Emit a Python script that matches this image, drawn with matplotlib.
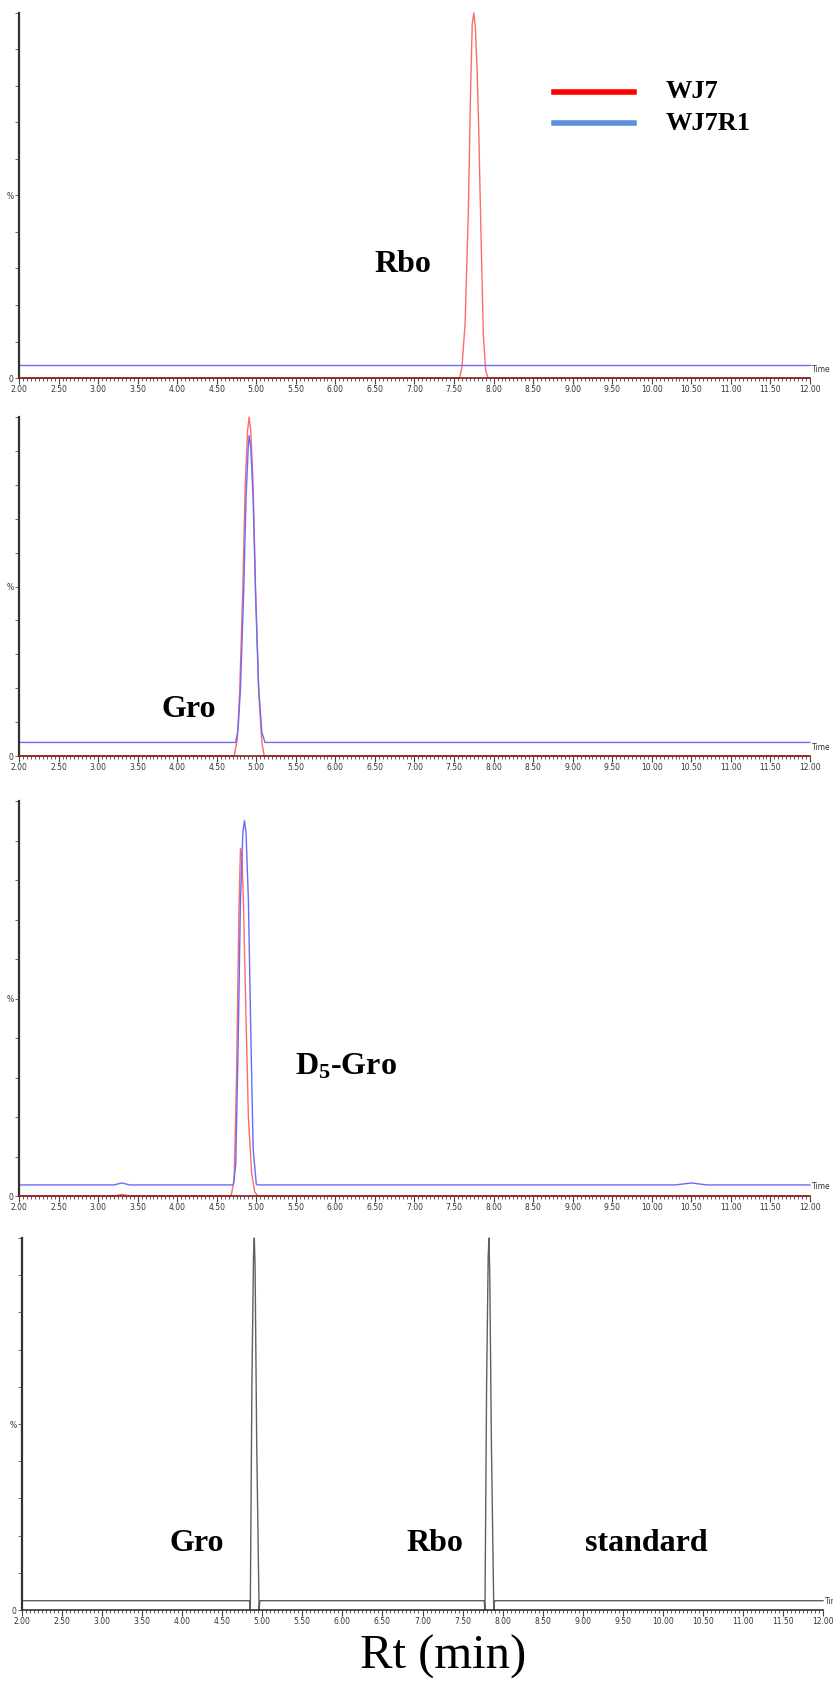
import matplotlib
matplotlib.use("Agg")
import matplotlib.pyplot as plt
from matplotlib.ticker import MultipleLocator, FixedLocator, FixedFormatter

plt.rcParams['mathtext.fontset'] = 'custom'
plt.rcParams['mathtext.rm'] = 'Liberation Serif:bold'
plt.rcParams['mathtext.it'] = 'Liberation Serif:bold'
plt.rcParams['mathtext.bf'] = 'Liberation Serif:bold'

# ---------------- data (retention time in min, intensity in %) ----------------
x_ticks = [2.0, 2.5, 3.0, 3.5, 4.0, 4.5, 5.0, 5.5, 6.0, 6.5, 7.0, 7.5, 8.0,
           8.5, 9.0, 9.5, 10.0, 10.5, 11.0, 11.5, 12.0]
x_tick_labels = ["2.00", "2.50", "3.00", "3.50", "4.00", "4.50", "5.00", "5.50",
                 "6.00", "6.50", "7.00", "7.50", "8.00", "8.50", "9.00", "9.50",
                 "10.00", "10.50", "11.00", "11.50", "12.00"]

# Panel 1 : Rbo channel
p1_wj7_t = [2.00, 7.57, 7.60, 7.64, 7.68, 7.71, 7.73, 7.75, 7.77, 7.79, 7.81, 7.84, 7.87, 7.90, 7.93, 12.00]
p1_wj7_i = [0, 0, 3, 15, 45, 80, 97, 100, 96, 85, 70, 40, 12, 2, 0, 0]
p1_r1_t = [2.00, 12.00]
p1_r1_i = [3.5, 3.5]

# Panel 2 : Gro channel
p2_wj7_t = [2.00, 4.72, 4.76, 4.79, 4.83, 4.86, 4.89, 4.91, 4.93, 4.96, 4.99, 5.03, 5.07, 5.10, 12.00]
p2_wj7_i = [0, 0, 5, 19, 50, 80, 96, 100, 96, 80, 50, 19, 4, 0, 0]
p2_r1_t = [2.00, 4.74, 4.77, 4.80, 4.84, 4.87, 4.90, 4.91, 4.93, 4.96, 4.99, 5.03, 5.07, 5.11, 12.00]
p2_r1_i = [4.0, 4.0, 8, 20, 48, 76, 92, 94.5, 91, 76, 48, 20, 7, 4.0, 4.0]

# Panel 3 : D5-Gro channel
p3_wj7_t = [2.00, 3.20, 3.30, 3.40, 4.68, 4.72, 4.75, 4.78, 4.80, 4.82, 4.84, 4.87, 4.90, 4.94, 4.98, 5.02, 12.00]
p3_wj7_i = [0, 0, 0.4, 0, 0, 4, 30, 72, 88, 86, 72, 45, 20, 6, 1, 0, 0]
p3_r1_t = [2.00, 3.20, 3.30, 3.40, 4.71, 4.74, 4.77, 4.80, 4.83, 4.85, 4.87, 4.90, 4.93, 4.96, 5.00, 5.02, 10.30, 10.50, 10.70, 12.00]
p3_r1_i = [2.8, 2.8, 3.3, 2.8, 2.8, 8, 38, 75, 92, 95, 92, 75, 42, 12, 3.0, 2.8, 2.8, 3.3, 2.8, 2.8]

# Panel 4 : standard
p4_std_t = [2.00, 4.84, 4.85, 4.87, 4.89, 4.90, 4.91, 4.93, 4.96, 4.97, 7.77, 7.78, 7.80, 7.82, 7.83, 7.84, 7.86, 7.89, 7.90, 12.00]
p4_std_i = [2.5, 2.5, 0, 60, 95, 100, 92, 45, 0, 2.5, 2.5, 0, 60, 95, 100, 90, 45, 0, 2.5, 2.5]

legend_labels = ["WJ7", "WJ7R1"]

# ---------------- layout ----------------
W, H = 833, 1685
fig = plt.figure(figsize=(W / 100, H / 100), dpi=100)

RED = '#ff6b6b'
BLUE = '#6b6bf5'
GRAY = '#606060'

def make_ax(left_px, right_px, top_px, base_px):
    ax = fig.add_axes([left_px / W, 1 - base_px / H,
                       (right_px - left_px) / W, (base_px - top_px) / H])
    ax.set_xlim(2.0, 12.0)
    ax.set_ylim(0, 100)
    for s in ['top', 'right']:
        ax.spines[s].set_visible(False)
    ax.spines['left'].set_color('#333333')
    ax.spines['left'].set_linewidth(1.6)
    ax.spines['bottom'].set_linewidth(1.2)
    ax.xaxis.set_major_locator(FixedLocator(x_ticks))
    ax.xaxis.set_major_formatter(FixedFormatter(x_tick_labels))
    ax.xaxis.set_minor_locator(MultipleLocator(0.05))
    ax.tick_params(axis='x', which='major', length=4, width=0.8, color='#444444',
                   labelsize=5.5, pad=1, labelcolor='#333333')
    ax.tick_params(axis='x', which='minor', length=2, width=0.6, color='#444444')
    ax.yaxis.set_major_locator(FixedLocator([0, 10, 20, 30, 40, 50, 60, 70, 80, 90, 100]))
    ax.yaxis.set_major_formatter(FixedFormatter(['0', '', '', '', '', '%', '', '', '', '', '']))
    ax.tick_params(axis='y', which='major', length=3, width=0.6, color='#555555',
                   labelsize=5.5, pad=1, labelcolor='#333333')
    ax.text(1.003, 0.012, 'Time', transform=ax.transAxes, fontsize=5.5,
            color='#333333', ha='left', va='bottom')
    ax.patch.set_alpha(0)
    return ax

ax1 = make_ax(19, 810, 13, 378)
ax2 = make_ax(19, 810, 417, 756)
ax3 = make_ax(19, 810, 801, 1196)
ax4 = make_ax(22, 823, 1238, 1610)

for ax in (ax1, ax2, ax3):
    ax.spines['bottom'].set_color('#8b1a1a')
ax4.spines['bottom'].set_color('#333333')

ax1.plot(p1_wj7_t, p1_wj7_i, color=RED, lw=1.0, clip_on=False)
ax1.plot(p1_r1_t, p1_r1_i, color=BLUE, lw=1.0, clip_on=False)

ax2.plot(p2_wj7_t, p2_wj7_i, color=RED, lw=1.0, clip_on=False)
ax2.plot(p2_r1_t, p2_r1_i, color=BLUE, lw=1.0, clip_on=False)

ax3.plot(p3_wj7_t, p3_wj7_i, color=RED, lw=1.0, clip_on=False)
ax3.plot(p3_r1_t, p3_r1_i, color=BLUE, lw=1.0, clip_on=False)

ax4.plot(p4_std_t, p4_std_i, color=GRAY, lw=1.0, clip_on=False)

# annotations
lab = dict(family='Liberation Serif', fontweight='bold', fontsize=23,
           ha='center', va='center', color='black')
ax1.text(6.85, 31, 'Rbo', **lab)
ax2.text(4.14, 13.6, 'Gro', **lab)
ax3.text(6.13, 32.7, r'D$_{5}$-Gro', **lab)
ax4.text(4.18, 18, 'Gro', **lab)
ax4.text(7.16, 18, 'Rbo', **lab)
ax4.text(9.8, 18, 'standard', **lab)

# legend drawn in figure coordinates
legend_colors = ['#ff0000', '#5b8fd8']
legend_y = [92, 123]
for lbl, col, yy in zip(legend_labels, legend_colors, legend_y):
    fig.add_artist(plt.Line2D([554 / W, 634 / W], [1 - yy / H, 1 - yy / H],
                              color=col, lw=4, transform=fig.transFigure))
    fig.text(666 / W, 1 - yy / H, lbl, family='Liberation Serif', fontweight='bold',
             fontsize=19, ha='left', va='center')

fig.text(443 / W, 1 - 1657 / H, 'Rt (min)', family='Liberation Serif',
         fontsize=35, ha='center', va='center')

fig.savefig('out.png', dpi=100, facecolor='white')
